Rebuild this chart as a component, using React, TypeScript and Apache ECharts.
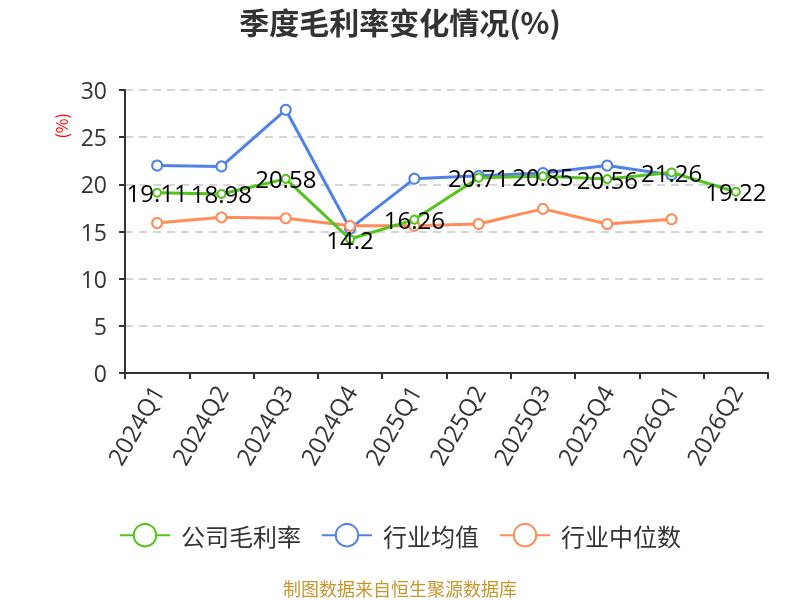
import React, { useEffect, useRef } from "react";
import * as echarts from "echarts";

const categories = ["2024Q1", "2024Q2", "2024Q3", "2024Q4", "2025Q1", "2025Q2", "2025Q3", "2025Q4", "2026Q1", "2026Q2"];
const companyMargin = [19.11, 18.98, 20.58, 14.2, 16.26, 20.71, 20.85, 20.56, 21.26, 19.22];
const industryAvg = [22.0, 21.9, 27.9, 15.3, 20.6, 20.9, 21.2, 22.0, 21.0, null];
const industryMedian = [15.9, 16.5, 16.4, 15.6, 15.6, 15.8, 17.4, 15.8, 16.3, null];
const yTicks = { min: 0, max: 30, interval: 5 };

const FONT = "'Open Sans', 'Noto Sans CJK SC', sans-serif";
const CJK = "'Noto Sans CJK SC', 'Open Sans', sans-serif";

export default function App() {
  const ref = useRef<HTMLDivElement>(null);
  useEffect(() => {
    if (!ref.current) return;
    const chart = echarts.init(ref.current, null, { renderer: "svg" });
    chart.setOption({
      animation: false,
      textStyle: { fontFamily: FONT },
      title: {
        text: "季度毛利率变化情况(%)",
        left: "center",
        top: 1,
        textStyle: { fontSize: 30, fontWeight: "bold", color: "#333", fontFamily: CJK },
      },
      legend: {
        top: 518,
        left: "center",
        itemWidth: 50,
        itemHeight: 28,
        itemGap: 20,
        textStyle: { fontSize: 24, color: "#333", fontFamily: CJK, padding: [0, 0, 0, 6] },
        data: ["公司毛利率", "行业均值", "行业中位数"],
      },
      graphic: [
        {
          type: "text",
          left: "center",
          top: 578,
          style: { text: "制图数据来自恒生聚源数据库", fill: "#c8962e", fontSize: 18, lineHeight: 20, fontFamily: CJK },
        },
      ],
      grid: { left: 125, right: 32, top: 90, bottom: 227, containLabel: false },
      xAxis: {
        type: "category",
        data: categories,
        boundaryGap: true,
        axisLine: { lineStyle: { color: "#333", width: 2 } },
        axisTick: { show: true, alignWithLabel: false, length: 6, lineStyle: { color: "#333", width: 2 } },
        axisLabel: { rotate: 60, fontSize: 24, color: "#333", margin: 14, interval: 0, fontFamily: FONT },
      },
      yAxis: {
        type: "value",
        min: yTicks.min,
        max: yTicks.max,
        interval: yTicks.interval,
        name: "(%)",
        nameLocation: "end",
        nameRotate: 90,
        nameGap: 0,
        nameTextStyle: { color: "#ff0000", fontSize: 16, align: "right", verticalAlign: "bottom", padding: [0, 23, 56, 0], fontFamily: CJK },
        axisLine: { show: true, lineStyle: { color: "#333", width: 2 } },
        axisTick: { show: true, length: 6, lineStyle: { color: "#333", width: 2 } },
        axisLabel: { fontSize: 23, color: "#333", margin: 18, fontFamily: FONT },
        splitLine: { show: true, lineStyle: { color: "#c8c8c8", type: [8, 6], width: 1.5 } },
      },
      series: [
        {
          name: "公司毛利率",
          type: "line",
          data: companyMargin,
          color: "#52c41a",
          symbol: "emptyCircle",
          symbolSize: 8,
          lineStyle: { width: 3 },
          label: { show: true, position: "inside", fontSize: 24, color: "#000", fontFamily: FONT },
          z: 3,
        },
        {
          name: "行业均值",
          type: "line",
          data: industryAvg,
          color: "#4f81e6",
          symbol: "emptyCircle",
          symbolSize: 10,
          lineStyle: { width: 3 },
          z: 2,
        },
        {
          name: "行业中位数",
          type: "line",
          data: industryMedian,
          color: "#ff8c59",
          symbol: "emptyCircle",
          symbolSize: 10,
          lineStyle: { width: 3 },
          z: 2,
        },
      ],
    });
    return () => chart.dispose();
  }, []);
  return <div ref={ref} style={{ position: "fixed", left: 0, top: 0, width: 800, height: 600 }} />;
}
